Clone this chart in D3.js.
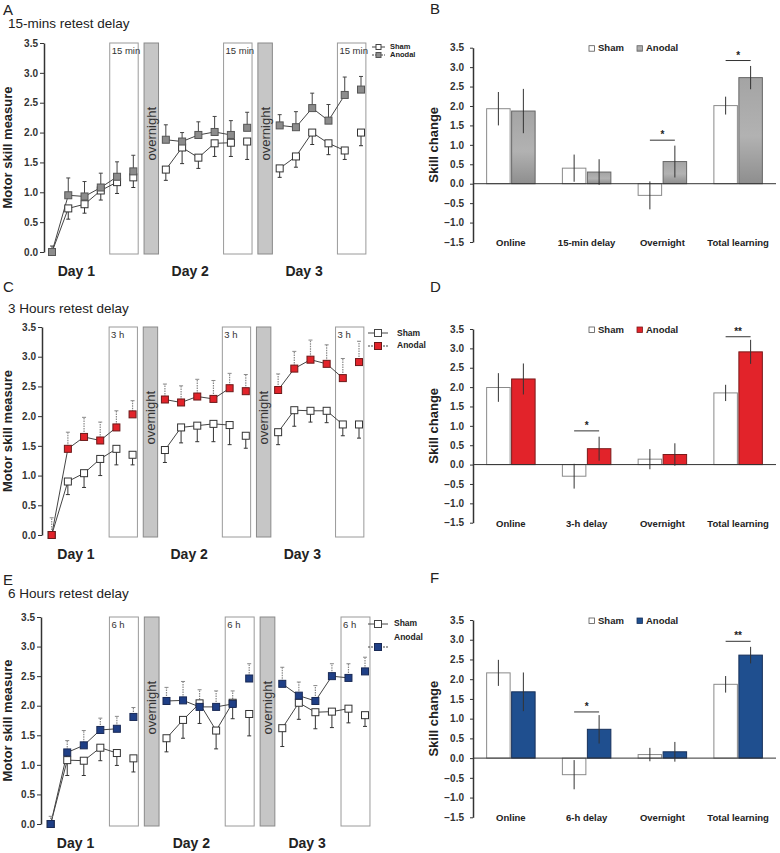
<!DOCTYPE html>
<html>
<head>
<meta charset="utf-8">
<script src="https://cdn.jsdelivr.net/npm/d3@7"></script>
<style>
  body { margin: 0; background: #fff; }
  svg { display: block; font-family: "Liberation Sans", Arial, sans-serif; }
</style>
</head>
<body>
<svg id="chart" width="780" height="853"></svg>
<script>
// ---------- DATA ----------
const lineTicks = [0, 0.5, 1, 1.5, 2, 2.5, 3, 3.5];
const barTicks = [-1.5, -1, -0.5, 0, 0.5, 1, 1.5, 2, 2.5, 3, 3.5];
const dayLabels = ["Day 1", "Day 2", "Day 3"];
const seriesNames = ["Sham", "Anodal"];

// Panel A (15-min delay): 3 days x 6 blocks
const aSham      = [0.00, 0.73, 0.80, 1.03, 1.17, 1.25,  1.38, 1.75, 1.58, 1.82, 1.83, 1.85,  1.40, 1.60, 2.00, 1.82, 1.70, 2.00];
const aShamErr   = [0.00, 0.18, 0.15, 0.16, 0.19, 0.17,  0.18, 0.27, 0.18, 0.22, 0.23, 0.30,  0.15, 0.18, 0.20, 0.19, 0.15, 0.22];
const aAnodal    = [0.00, 0.95, 0.93, 1.08, 1.26, 1.35,  1.88, 1.85, 1.96, 2.01, 1.96, 2.08,  2.12, 2.09, 2.41, 2.20, 2.63, 2.72];
const aAnodalErr = [0.10, 0.29, 0.25, 0.24, 0.25, 0.27,  0.25, 0.15, 0.22, 0.26, 0.24, 0.26,  0.18, 0.26, 0.25, 0.27, 0.30, 0.22];

// Panel C (3-h delay)
const cSham      = [0.00, 0.90, 1.04, 1.28, 1.45, 1.35,  1.43, 1.81, 1.84, 1.87, 1.85, 1.67,  1.73, 2.10, 2.09, 2.09, 1.86, 1.86];
const cShamErr   = [0.00, 0.22, 0.24, 0.28, 0.27, 0.17,  0.21, 0.26, 0.27, 0.30, 0.33, 0.21,  0.21, 0.27, 0.19, 0.20, 0.19, 0.23];
const cAnodal    = [0.00, 1.45, 1.65, 1.59, 1.81, 2.03,  2.28, 2.23, 2.33, 2.29, 2.47, 2.42,  2.44, 2.80, 2.95, 2.88, 2.64, 2.91];
const cAnodalErr = [0.29, 0.28, 0.33, 0.31, 0.28, 0.23,  0.26, 0.28, 0.29, 0.31, 0.25, 0.28,  0.27, 0.29, 0.33, 0.32, 0.33, 0.35];

// Panel E (6-h delay)
const eSham      = [0.00, 1.08, 1.07, 1.29, 1.20, 1.11,  1.45, 1.76, 2.04, 1.58, 2.05, 1.86,  1.62, 2.05, 1.89, 1.90, 1.95, 1.84];
const eShamErr   = [0.00, 0.26, 0.25, 0.22, 0.21, 0.23,  0.23, 0.31, 0.34, 0.31, 0.27, 0.37,  0.31, 0.28, 0.28, 0.27, 0.24, 0.19];
const eAnodal    = [0.00, 1.21, 1.33, 1.59, 1.61, 1.81,  2.08, 2.09, 1.98, 1.98, 2.03, 2.46,  2.37, 2.17, 2.08, 2.50, 2.47, 2.58];
const eAnodalErr = [0.13, 0.20, 0.25, 0.20, 0.21, 0.16,  0.23, 0.32, 0.29, 0.27, 0.22, 0.25,  0.28, 0.23, 0.26, 0.21, 0.24, 0.24];

// Panel B
const bCats = ["Online", "15-min delay", "Overnight", "Total learning"];
const bSham = [1.93, 0.40, -0.30, 2.01];
const bShamErr = [0.43, 0.35, 0.36, 0.23];
const bAnodal = [1.87, 0.30, 0.57, 2.73];
const bAnodalErr = [0.57, 0.33, 0.41, 0.30];
const bSig = [{cat: 2, y: 1.12, label: "*"}, {cat: 3, y: 3.17, label: "*"}];

// Panel D
const dCats = ["Online", "3-h delay", "Overnight", "Total learning"];
const dSham = [1.99, -0.30, 0.14, 1.85];
const dShamErr = [0.37, 0.32, 0.26, 0.21];
const dAnodal = [2.21, 0.41, 0.26, 2.91];
const dAnodalErr = [0.40, 0.31, 0.29, 0.31];
const dSig = [{cat: 1, y: 0.87, label: "*"}, {cat: 3, y: 3.30, label: "**"}];

// Panel F
const fCats = ["Online", "6-h delay", "Overnight", "Total learning"];
const fSham = [2.16, -0.42, 0.09, 1.87];
const fShamErr = [0.33, 0.37, 0.17, 0.21];
const fAnodal = [1.68, 0.73, 0.16, 2.61];
const fAnodalErr = [0.49, 0.36, 0.25, 0.21];
const fSig = [{cat: 1, y: 1.17, label: "*"}, {cat: 3, y: 2.96, label: "**"}];

// ---------- DRAWING ----------
const svg = d3.select("#chart");
const defs = svg.append("defs");
const grad = defs.append("linearGradient").attr("id", "grayGrad")
  .attr("x1", 0).attr("y1", 0).attr("x2", 0).attr("y2", 1);
grad.append("stop").attr("offset", "0%").attr("stop-color", "#a4a4a4");
grad.append("stop").attr("offset", "55%").attr("stop-color", "#b2b2b2");
grad.append("stop").attr("offset", "100%").attr("stop-color", "#8e8e8e");

function panelLabel(letter, x, y, title, ty) {
  svg.append("text").attr("x", x).attr("y", y).attr("font-size", 15).attr("fill", "#222").text(letter);
  if (title) svg.append("text").attr("x", 8).attr("y", ty).attr("font-size", 13.5).attr("fill", "#222").text(title);
}

function drawLinePanel(cfg) {
  const g = svg.append("g");
  const x = d3.scaleLinear().domain([0, 19]).range([cfg.x0, cfg.x19]);
  const y = d3.scaleLinear().domain([0, 3.5]).range([cfg.y0, cfg.yTop]);
  const slot = (k) => Math.floor(k / 6) * 7 + (k % 6);

  // delay boxes and overnight bars
  [0, 1, 2].forEach(d => {
    const bx0 = x(d * 7 + 3.55), bx1 = x(d * 7 + 5.3);
    g.append("rect").attr("x", bx0).attr("y", y(3.5)).attr("width", bx1 - bx0)
      .attr("height", cfg.y0 + 2 - y(3.5)).attr("fill", "#fff").attr("stroke", "#9a9a9a").attr("stroke-width", 1);
    g.append("text").attr("x", bx0 + 2).attr("y", y(3.5) + 11).attr("font-size", 9.5).attr("fill", "#333").text(cfg.boxLabel);
  });
  [0, 1].forEach(d => {
    const ox0 = x(d * 7 + 5.66), ox1 = x(d * 7 + 6.55);
    g.append("rect").attr("x", ox0).attr("y", y(3.5)).attr("width", ox1 - ox0)
      .attr("height", cfg.y0 + 2 - y(3.5)).attr("fill", "#c6c6c6").attr("stroke", "#8a8a8a").attr("stroke-width", 1);
    const cx = (ox0 + ox1) / 2 + 4.5, ty = y(3.5) + 64;
    g.append("text").attr("transform", `translate(${cx},${ty}) rotate(-90)`)
      .attr("text-anchor", "end").attr("font-size", 13).attr("fill", "#333").text("overnight");
  });

  // axis
  const ax = g.append("g").attr("transform", `translate(${cfg.xAxis},0)`)
    .call(d3.axisLeft(y).tickValues(lineTicks).tickFormat(d3.format(".1f")).tickSize(4).tickSizeOuter(0).tickPadding(2));
  ax.select(".domain").attr("stroke", "#333").attr("stroke-width", 1.5);
  ax.selectAll(".tick line").attr("stroke", "#333");
  ax.selectAll(".tick text").attr("font-size", 10).attr("font-weight", "bold").attr("fill", "#333")
    .attr("font-family", "Liberation Sans, Arial, sans-serif");

  g.append("text").attr("transform", `translate(12,${(cfg.yTop + cfg.y0) / 2}) rotate(-90)`)
    .attr("text-anchor", "middle").attr("font-size", 13).attr("font-weight", "bold").attr("fill", "#222").text("Motor skill measure");

  dayLabels.forEach((lab, d) => {
    g.append("text").attr("x", x(d * 7 + 1.5)).attr("y", cfg.y0 + 24).attr("text-anchor", "middle")
      .attr("font-size", 14).attr("font-weight", "bold").attr("fill", "#222").text(lab);
  });

  const line = d3.line().x(d => x(d.s)).y(d => y(d.v));
  function series(vals, errs) {
    const pts = vals.map((v, k) => ({s: slot(k), v, e: errs[k], k}));
    // connecting lines within each day (first 5 blocks)
    [0, 1, 2].forEach(d => {
      const seg = pts.filter(p => Math.floor(p.k / 6) === d && p.k % 6 < 5);
      g.append("path").attr("d", line(seg)).attr("fill", "none").attr("stroke", "#444").attr("stroke-width", 1);
    });
    return pts;
  }
  const shamPts = series(cfg.sham, cfg.shamErr);
  const anoPts = series(cfg.anodal, cfg.anodalErr);

  function errBars(pts, dir, stroke, dash) {
    pts.filter(p => p.e > 0).forEach(p => {
      const ye = y(p.v + dir * p.e);
      g.append("line").attr("x1", x(p.s)).attr("x2", x(p.s)).attr("y1", y(p.v)).attr("y2", ye)
        .attr("stroke", stroke).attr("stroke-width", dash ? 1.2 : 1).attr("stroke-dasharray", dash || null);
      g.append("line").attr("x1", x(p.s) - 2).attr("x2", x(p.s) + 2).attr("y1", ye).attr("y2", ye)
        .attr("stroke", stroke).attr("stroke-width", 1);
    });
  }
  errBars(shamPts, -1, "#333", null);
  errBars(anoPts, 1, cfg.anoErrStroke, cfg.anoErrDash);

  const sz = 7;
  g.selectAll(null).data(shamPts).join("rect")
    .attr("x", d => x(d.s) - sz / 2).attr("y", d => y(d.v) - sz / 2).attr("width", sz).attr("height", sz)
    .attr("fill", "#fff").attr("stroke", "#333").attr("stroke-width", 1);
  g.selectAll(null).data(anoPts).join("rect")
    .attr("x", d => x(d.s) - sz / 2).attr("y", d => y(d.v) - sz / 2).attr("width", sz).attr("height", sz)
    .attr("fill", cfg.anoFill).attr("stroke", cfg.anoStroke).attr("stroke-width", 1);

  // legend (cut-off style at right)
  const L = cfg.legend;
  [[L.y1, "#fff", "Sham"], [L.y2, cfg.anoFill, "Anodal"]].forEach(([ly, fill, name], i) => {
    g.append("line").attr("x1", L.x).attr("x2", L.x + L.w).attr("y1", ly).attr("y2", ly)
      .attr("stroke", "#444").attr("stroke-width", 1).attr("stroke-dasharray", i ? "2,1" : null);
    g.append("rect").attr("x", L.x + L.w / 2 - L.s / 2).attr("y", ly - L.s / 2).attr("width", L.s).attr("height", L.s)
      .attr("fill", fill).attr("stroke", i ? cfg.anoStroke : "#444");
    g.append("text").attr("x", L.tx).attr("y", L.ty[i]).attr("font-size", L.fs).attr("font-weight", "bold")
      .attr("fill", "#222").attr("dominant-baseline", "middle").text(name);
  });
}

function drawBarPanel(cfg) {
  const g = svg.append("g");
  const y = d3.scaleLinear().domain([-1.5, 3.5]).range([cfg.yBot, cfg.yTop]);
  const x = d3.scaleBand().domain(cfg.cats).range([473, 776]).paddingInner(0.36).paddingOuter(0.18);
  const xs = d3.scaleBand().domain(seriesNames).range([0, x.bandwidth()]).paddingInner(0.06);

  const data = [];
  cfg.cats.forEach((c, i) => {
    data.push({c, i, s: "Sham", v: cfg.sham[i], e: cfg.shamErr[i]});
    data.push({c, i, s: "Anodal", v: cfg.anodal[i], e: cfg.anodalErr[i]});
  });

  g.selectAll(null).data(data).join("rect")
    .attr("x", d => x(d.c) + xs(d.s)).attr("width", xs.bandwidth())
    .attr("y", d => y(Math.max(d.v, 0))).attr("height", d => Math.abs(y(d.v) - y(0)))
    .attr("fill", d => d.s === "Sham" ? "#fff" : cfg.anoFill)
    .attr("stroke", d => d.s === "Sham" ? "#8a8a8a" : cfg.anoStroke).attr("stroke-width", 1);

  // zero line
  g.append("line").attr("x1", 473).attr("x2", 776).attr("y1", y(0)).attr("y2", y(0)).attr("stroke", "#333").attr("stroke-width", 1);

  // error bars
  g.selectAll(null).data(data).join("line")
    .attr("x1", d => x(d.c) + xs(d.s) + xs.bandwidth() / 2).attr("x2", d => x(d.c) + xs(d.s) + xs.bandwidth() / 2)
    .attr("y1", d => y(d.v + d.e)).attr("y2", d => y(d.v - d.e)).attr("stroke", "#333").attr("stroke-width", 1);

  // axis
  const ax = g.append("g").attr("transform", "translate(473,0)")
    .call(d3.axisLeft(y).tickValues(barTicks).tickFormat(d3.format(".1f")).tickSize(3).tickSizeOuter(0).tickPadding(6));
  ax.select(".domain").attr("stroke", "#333").attr("stroke-width", 1.5);
  ax.selectAll(".tick line").attr("stroke", "#333");
  ax.selectAll(".tick text").attr("font-size", 10).attr("font-weight", "bold").attr("fill", "#333")
    .attr("font-family", "Liberation Sans, Arial, sans-serif");

  // category labels
  cfg.cats.forEach(c => {
    g.append("text").attr("x", x(c) + x.bandwidth() / 2).attr("y", y(-1.5) + 4).attr("text-anchor", "middle")
      .attr("font-size", 9.5).attr("font-weight", "bold").attr("fill", "#222").text(c);
  });

  g.append("text").attr("transform", `translate(438,${y(1)}) rotate(-90)`)
    .attr("text-anchor", "middle").attr("font-size", 13).attr("font-weight", "bold").attr("fill", "#222").text("Skill change");

  // significance
  cfg.sig.forEach(s => {
    const c = cfg.cats[s.cat];
    const xa = x(c) + xs("Sham") + xs.bandwidth() / 2, xb = x(c) + xs("Anodal") + xs.bandwidth() / 2;
    g.append("line").attr("x1", xa).attr("x2", xb).attr("y1", y(s.y)).attr("y2", y(s.y)).attr("stroke", "#333").attr("stroke-width", 1);
    g.append("text").attr("x", (xa + xb) / 2).attr("y", y(s.y) - 2).attr("text-anchor", "middle")
      .attr("font-size", 10).attr("font-weight", "bold").attr("fill", "#222").text(s.label);
  });

  // legend
  const ly = cfg.yTop + 1;
  [[589, "#fff", "#555", "Sham"], [637, cfg.anoFill, cfg.anoStroke, "Anodal"]].forEach(([lx, f, st, name]) => {
    g.append("rect").attr("x", lx).attr("y", ly - 3).attr("width", 5.5).attr("height", 5.5).attr("fill", f).attr("stroke", st).attr("stroke-width", 0.8);
    g.append("text").attr("x", lx + 9).attr("y", ly).attr("dominant-baseline", "middle")
      .attr("font-size", 9.5).attr("font-weight", "bold").attr("fill", "#222").text(name);
  });
}

// ---------- PANELS ----------
panelLabel("A", 3, 15, "15-mins retest delay", 28);
panelLabel("B", 430, 14);
panelLabel("C", 3, 292, "3 Hours retest delay", 313);
panelLabel("D", 430, 292);
panelLabel("E", 3, 585, "6 Hours retest delay", 598);
panelLabel("F", 430, 583);

drawLinePanel({
  yTop: 43, y0: 252, xAxis: 44, x0: 52, x19: 361,
  sham: aSham, shamErr: aShamErr, anodal: aAnodal, anodalErr: aAnodalErr,
  anoFill: "#8c8c8c", anoStroke: "#555", anoErrStroke: "#444", anoErrDash: null,
  boxLabel: "15 min",
  legend: {x: 372, w: 13, s: 5, y1: 47, y2: 55, tx: 390, ty: [47, 55], fs: 7.5}
});
drawLinePanel({
  yTop: 327, y0: 535, xAxis: 42, x0: 51.7, x19: 359,
  sham: cSham, shamErr: cShamErr, anodal: cAnodal, anodalErr: cAnodalErr,
  anoFill: "#e2232a", anoStroke: "#6b1a1a", anoErrStroke: "#888", anoErrDash: "1.5,1",
  boxLabel: "3 h",
  legend: {x: 368, w: 20, s: 7, y1: 333, y2: 346, tx: 397, ty: [334, 346], fs: 8.5}
});
drawLinePanel({
  yTop: 617, y0: 824, xAxis: 41, x0: 50.7, x19: 365,
  sham: eSham, shamErr: eShamErr, anodal: eAnodal, anodalErr: eAnodalErr,
  anoFill: "#1f3f86", anoStroke: "#1a2a55", anoErrStroke: "#888", anoErrDash: "1.5,1",
  boxLabel: "6 h",
  legend: {x: 368, w: 20, s: 7, y1: 624, y2: 647, tx: 394, ty: [624, 638], fs: 8.5}
});

drawBarPanel({
  yTop: 47.7, yBot: 242, cats: bCats, sham: bSham, shamErr: bShamErr, anodal: bAnodal, anodalErr: bAnodalErr,
  sig: bSig, anoFill: "url(#grayGrad)", anoStroke: "#666"
});
drawBarPanel({
  yTop: 329, yBot: 522.7, cats: dCats, sham: dSham, shamErr: dShamErr, anodal: dAnodal, anodalErr: dAnodalErr,
  sig: dSig, anoFill: "#e2232a", anoStroke: "#7a1a1a"
});
drawBarPanel({
  yTop: 620, yBot: 817.3, cats: fCats, sham: fSham, shamErr: fShamErr, anodal: fAnodal, anodalErr: fAnodalErr,
  sig: fSig, anoFill: "#1f4f8f", anoStroke: "#17305a"
});
</script>
</body>
</html>
